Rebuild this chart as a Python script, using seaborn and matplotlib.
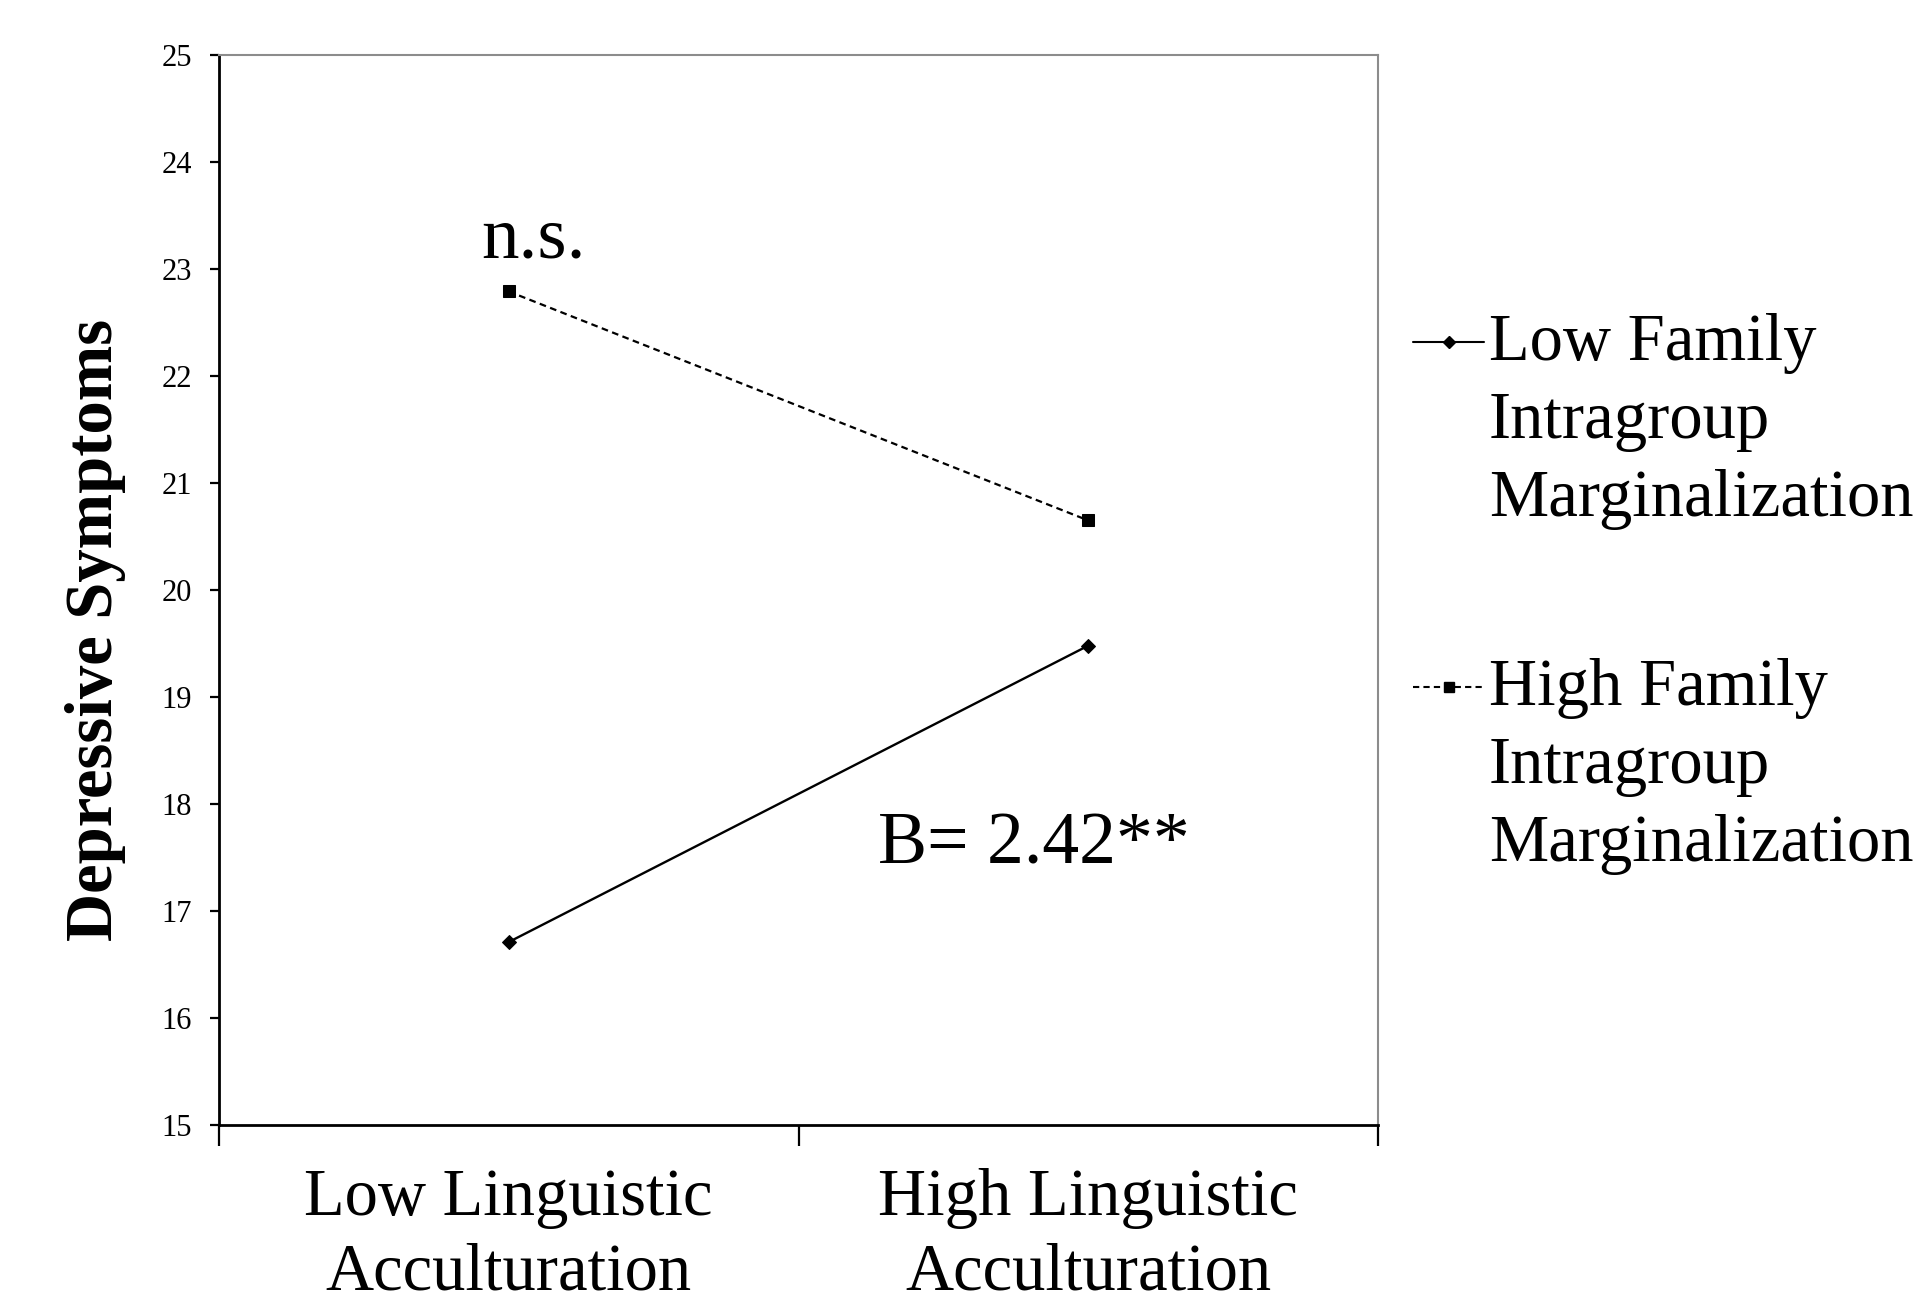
import matplotlib
matplotlib.use("Agg")
import matplotlib.pyplot as plt
from matplotlib.lines import Line2D
import seaborn as sns
import pandas as pd

categories = ["Low Linguistic\nAcculturation", "High Linguistic\nAcculturation"]
low_family = [16.71, 19.48]
high_family = [22.79, 20.65]
series_names = ["Low Family\nIntragroup\nMarginalization", "High Family\nIntragroup\nMarginalization"]
y_ticks = list(range(15, 26))

sns.set_theme(style="white")
plt.rcParams["font.family"] = ["Liberation Serif", "DejaVu Serif"]

W, H = 1918, 1305
fig = plt.figure(figsize=(W / 100, H / 100), dpi=100)
L, R, T, B = 219, 1378, 55, 1125
ax = fig.add_axes([L / W, 1 - B / H, (R - L) / W, (B - T) / H])

df_low = pd.DataFrame({"x": categories, "y": low_family})
df_high = pd.DataFrame({"x": categories, "y": high_family})

sns.lineplot(data=df_low, x="x", y="y", ax=ax, color="black", lw=1.7,
             marker="D", markersize=7, markeredgecolor="black", sort=False)
sns.lineplot(data=df_high, x="x", y="y", ax=ax, color="black", lw=1.6,
             marker="s", markersize=8.5, markeredgecolor="black", sort=False,
             linestyle=(0, (3, 2)))

ax.set_xlim(-0.5, 1.5)
ax.set_ylim(15, 25)
ax.set_yticks(y_ticks)
ax.set_yticklabels([str(v) for v in y_ticks], fontsize=22)
ax.set_xticks([-0.5, 0.5, 1.5])
ax.set_xticklabels([])
ax.set_xticks([0, 1], labels=categories, minor=True)
ax.tick_params(axis="x", which="major", direction="out", length=15, width=1.6,
               bottom=True, color="black")
ax.tick_params(axis="x", which="minor", length=0, labelsize=48, pad=31,
               bottom=True)
ax.tick_params(axis="y", which="major", direction="out", length=6.5, width=1.6,
               left=True, pad=13, color="black")
for lbl in ax.get_xticklabels(minor=True):
    lbl.set_linespacing(1.28)
    lbl.set_color("black")
for lbl in ax.get_yticklabels():
    lbl.set_color("black")

ax.set_xlabel("")
ax.set_ylabel("Depressive Symptoms", fontsize=48, fontweight="bold", color="black")
ax.yaxis.label.set_va("center")
ax.yaxis.set_label_coords((95 - L) / (R - L), 1 - (630 - T) / (B - T))

for s in ["left", "bottom"]:
    ax.spines[s].set_color("black")
    ax.spines[s].set_linewidth(2.0)
for s in ["top", "right"]:
    ax.spines[s].set_color("#8c8c8c")
    ax.spines[s].set_linewidth(1.5)
ax.grid(False)

ax.text(-0.048, 23.11, "n.s.", fontsize=54, ha="left", va="baseline", color="black")
ax.text(0.637, 17.44, "B= 2.42**", fontsize=53, ha="left", va="baseline", color="black")

# legend (manual, to align handles with the first text line)
leg_styles = [dict(ls="-", marker="D", ms=6), dict(ls=(0, (3, 2)), marker="s", ms=7)]
leg_y = [342, 687]
for name, st, yy in zip(series_names, leg_styles, leg_y):
    yf = 1 - yy / H
    fig.add_artist(Line2D([1413 / W, 1484 / W], [yf, yf], color="black", lw=1.5,
                          linestyle=st["ls"]))
    fig.add_artist(Line2D([1448.5 / W], [yf], color="black", marker=st["marker"],
                          markersize=st["ms"], linestyle="none"))
    fig.text(1489 / W, yf + 29 / H, name, fontsize=48, ha="left", va="top",
             linespacing=1.36, color="black")

fig.savefig("out.png", dpi=100, facecolor="white")
